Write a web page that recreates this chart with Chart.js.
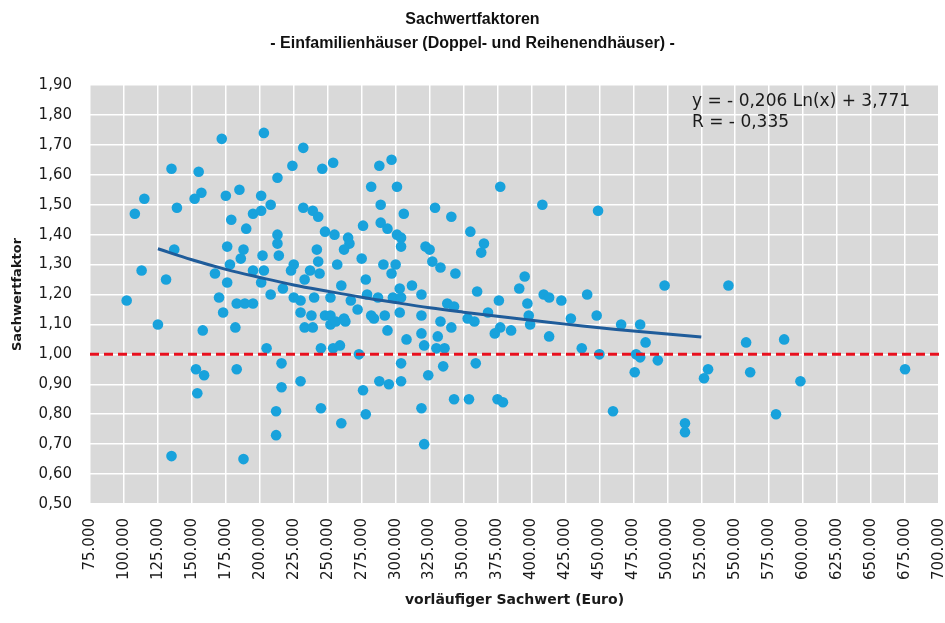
<!DOCTYPE html>
<html>
<head>
<meta charset="utf-8">
<script src="https://cdn.jsdelivr.net/npm/chart.js@4.4.1/dist/chart.umd.min.js"></script>
<style>
  html, body { margin: 0; padding: 0; background: #fff; }
  #wrap { width: 945px; height: 623px; }
</style>
</head>
<body>
<div id="wrap"><canvas id="chart" width="945" height="623"></canvas></div>
<script>
// Sachwertfaktoren - Doppel- und Reihenendhäuser
const titleLines = ['Sachwertfaktoren', '- Einfamilienhäuser (Doppel- und Reihenendhäuser) -'];
const xTitle = 'vorläufiger Sachwert (Euro)';
const yTitle = 'Sachwertfaktor';
const equationText = ['y = - 0,206 Ln(x) + 3,771', 'R = - 0,335'];

// Achsen
const xMin = 75000, xMax = 700000, xStep = 25000;
const yMin = 0.5, yMax = 1.9, yStep = 0.1;
const refLevel = 1.00;

// vorläufiger Sachwert (Euro) je Objekt
const sachwert = [
  172000, 203000, 224000, 135000, 155000, 213000, 157000, 152000, 115000, 175000,
  185000, 201000, 208000, 108000, 139000, 179000, 195000, 201000, 190000, 232000,
  213000, 213000, 214000, 176000, 188000, 202000, 186000, 137000, 225000, 223000,
  113000, 131000, 167000, 178000, 176000, 195000, 203000, 201000, 217000, 208000,
  102000, 170000, 183000, 189000, 195000, 225000, 173000, 125000, 158000, 182000,
  205000, 153000, 159000, 183000, 216000, 216000, 230000, 154000, 212000, 212000,
  135000, 188000, 232000, 246000, 254000, 288000, 297000, 282000, 301000, 289000,
  239000, 243000, 306000, 329000, 341000, 276000, 289000, 294000, 248000, 255000,
  301000, 304000, 304000, 265000, 266000, 262000, 355000, 322000, 325000, 242000,
  243000, 257000, 275000, 291000, 300000, 297000, 327000, 333000, 344000, 237000,
  244000, 233000, 278000, 260000, 312000, 303000, 360000, 230000, 240000, 252000,
  267000, 279000, 287000, 298000, 304000, 319000, 338000, 343000, 230000, 238000,
  248000, 252000, 262000, 272000, 282000, 284000, 292000, 303000, 319000, 333000,
  341000, 353000, 358000, 233000, 239000, 252000, 256000, 263000, 294000, 319000,
  331000, 308000, 321000, 245000, 254000, 259000, 273000, 330000, 336000, 304000,
  335000, 359000, 324000, 288000, 295000, 304000, 276000, 343000, 354000, 245000,
  319000, 278000, 260000, 321000, 377000, 408000, 449000, 365000, 363000, 395000,
  391000, 376000, 409000, 413000, 422000, 441000, 498000, 397000, 368000, 398000,
  399000, 429000, 448000, 377000, 373000, 385000, 466000, 480000, 413000, 484000,
  437000, 450000, 477000, 480000, 493000, 476000, 530000, 527000, 375000, 379000,
  460000, 513000, 513000, 545000, 558000, 586000, 561000, 598000, 580000, 675000
];

// Sachwertfaktor je Objekt (gleiche Reihenfolge)
const faktor = [
  1.72, 1.74, 1.63, 1.62, 1.61, 1.59, 1.54, 1.52, 1.52, 1.53,
  1.55, 1.53, 1.50, 1.47, 1.49, 1.45, 1.47, 1.48, 1.42, 1.49,
  1.40, 1.37, 1.33, 1.36, 1.35, 1.33, 1.32, 1.35, 1.30, 1.28,
  1.28, 1.25, 1.27, 1.30, 1.24, 1.28, 1.28, 1.24, 1.22, 1.20,
  1.18, 1.19, 1.17, 1.17, 1.17, 1.19, 1.14, 1.10, 1.08, 1.09,
  1.02, 0.95, 0.93, 0.95, 0.97, 0.89, 0.91, 0.87, 0.81, 0.73,
  0.66, 0.65, 1.69, 1.62, 1.64, 1.63, 1.65, 1.56, 1.56, 1.50,
  1.48, 1.46, 1.47, 1.49, 1.46, 1.43, 1.44, 1.42, 1.41, 1.40,
  1.40, 1.39, 1.36, 1.39, 1.37, 1.35, 1.41, 1.36, 1.35, 1.35,
  1.31, 1.30, 1.32, 1.30, 1.30, 1.27, 1.31, 1.29, 1.27, 1.28,
  1.27, 1.25, 1.25, 1.23, 1.23, 1.22, 1.21, 1.18, 1.19, 1.19,
  1.18, 1.20, 1.19, 1.19, 1.19, 1.20, 1.17, 1.16, 1.14, 1.13,
  1.13, 1.13, 1.12, 1.15, 1.13, 1.12, 1.13, 1.14, 1.13, 1.11,
  1.09, 1.12, 1.11, 1.09, 1.09, 1.10, 1.11, 1.11, 1.08, 1.07,
  1.06, 1.05, 1.03, 1.02, 1.02, 1.03, 1.00, 1.02, 1.02, 0.97,
  0.96, 0.97, 0.93, 0.91, 0.90, 0.91, 0.88, 0.85, 0.85, 0.82,
  0.82, 0.80, 0.77, 0.70, 1.56, 1.50, 1.48, 1.37, 1.34, 1.26,
  1.22, 1.18, 1.20, 1.19, 1.18, 1.20, 1.23, 1.17, 1.14, 1.13,
  1.10, 1.12, 1.13, 1.09, 1.07, 1.08, 1.10, 1.10, 1.06, 1.04,
  1.02, 1.00, 1.00, 0.99, 0.98, 0.94, 0.95, 0.92, 0.85, 0.84,
  0.81, 0.77, 0.74, 1.23, 1.04, 1.05, 0.94, 0.91, 0.80, 0.95
];

// logarithmische Trendlinie
const trendX = [125000, 150000, 175000, 200000, 225000, 250000, 275000, 300000, 325000,
  350000, 375000, 400000, 425000, 450000, 475000, 500000, 525000];
const trendY = [1.353, 1.316, 1.284, 1.257, 1.232, 1.211, 1.191, 1.173, 1.156,
  1.141, 1.127, 1.114, 1.101, 1.089, 1.078, 1.068, 1.058];

const fmtThousands = v => String(Math.round(v)).replace(/\B(?=(\d{3})+(?!\d))/g, '.');
const fmtComma = v => v.toFixed(2).replace('.', ',');

const wideFont = '"DejaVu Sans", Verdana, sans-serif';

// grauer Hintergrund der Zeichenfläche
const plotBackground = {
  id: 'plotBackground',
  beforeDraw(chart) {
    const { ctx, chartArea: a } = chart;
    ctx.save();
    ctx.fillStyle = '#d9d9d9';
    ctx.fillRect(a.left, a.top, a.width, a.height);
    ctx.restore();
  }
};

// Gleichung oben rechts
const equationLabel = {
  id: 'equationLabel',
  afterDatasetsDraw(chart) {
    const { ctx, chartArea: a } = chart;
    ctx.save();
    ctx.font = '17px ' + wideFont;
    ctx.fillStyle = '#1a1a1a';
    ctx.textBaseline = 'middle';
    equationText.forEach((t, i) => ctx.fillText(t, a.right - 247, a.top + 17 + i * 21));
    ctx.restore();
  }
};

Chart.defaults.font.family = '"Liberation Sans", Arial, sans-serif';
Chart.defaults.color = '#1a1a1a';

const points = sachwert.map((x, i) => ({ x, y: faktor[i] }));
const trend = trendX.map((x, i) => ({ x, y: trendY[i] }));
const refLine = [{ x: xMin, y: refLevel }, { x: xMax, y: refLevel }];

new Chart(document.getElementById('chart'), {
  type: 'scatter',
  data: {
    datasets: [
      {
        label: 'Referenz 1,00',
        data: refLine,
        showLine: true,
        borderColor: '#e8101e',
        borderWidth: 3,
        borderDash: [9, 5],
        pointRadius: 0,
        order: 0
      },
      {
        label: 'Trend',
        data: trend,
        showLine: true,
        borderColor: '#1f5c9a',
        borderWidth: 3,
        tension: 0.4,
        pointRadius: 0,
        order: 1
      },
      {
        label: 'Sachwertfaktor',
        data: points,
        backgroundColor: '#18a2dc',
        borderWidth: 0,
        pointRadius: 5.3,
        order: 2
      }
    ]
  },
  options: {
    responsive: false,
    animation: false,
    layout: { padding: 0 },
    plugins: {
      legend: { display: false },
      tooltip: { enabled: false },
      title: {
        display: true,
        text: titleLines,
        font: { size: 16, weight: 'bold', lineHeight: 1.5 },
        color: '#111',
        padding: { top: 8, bottom: 29 }
      }
    },
    scales: {
      x: {
        type: 'linear',
        min: xMin,
        max: xMax,
        ticks: {
          stepSize: xStep,
          callback: v => fmtThousands(v),
          minRotation: 90,
          maxRotation: 90,
          font: { size: 15, family: wideFont },
          padding: 14
        },
        grid: { color: '#ffffff', lineWidth: 1.5, drawTicks: false },
        border: { display: false },
        title: {
          display: true,
          text: xTitle,
          font: { size: 14, weight: 'bold', family: wideFont },
          padding: { top: 0, bottom: 14 }
        },
        afterFit: s => {
          s.height = 119;
          s.paddingRight = 6;
          s.paddingLeft = 0;
        }
      },
      y: {
        min: yMin,
        max: yMax,
        ticks: {
          stepSize: yStep,
          callback: v => fmtComma(v),
          font: { size: 15, family: wideFont },
          padding: 18
        },
        grid: { color: '#ffffff', lineWidth: 1.5, drawTicks: false },
        border: { display: false },
        title: {
          display: true,
          text: yTitle,
          font: { size: 13, weight: 'bold', family: wideFont },
          padding: { top: 10, bottom: 0 }
        },
        afterFit: s => {
          s.width = 90;
          s.paddingTop = 0;
          s.paddingBottom = 0;
        }
      }
    }
  },
  plugins: [plotBackground, equationLabel]
});
</script>
</body>
</html>
